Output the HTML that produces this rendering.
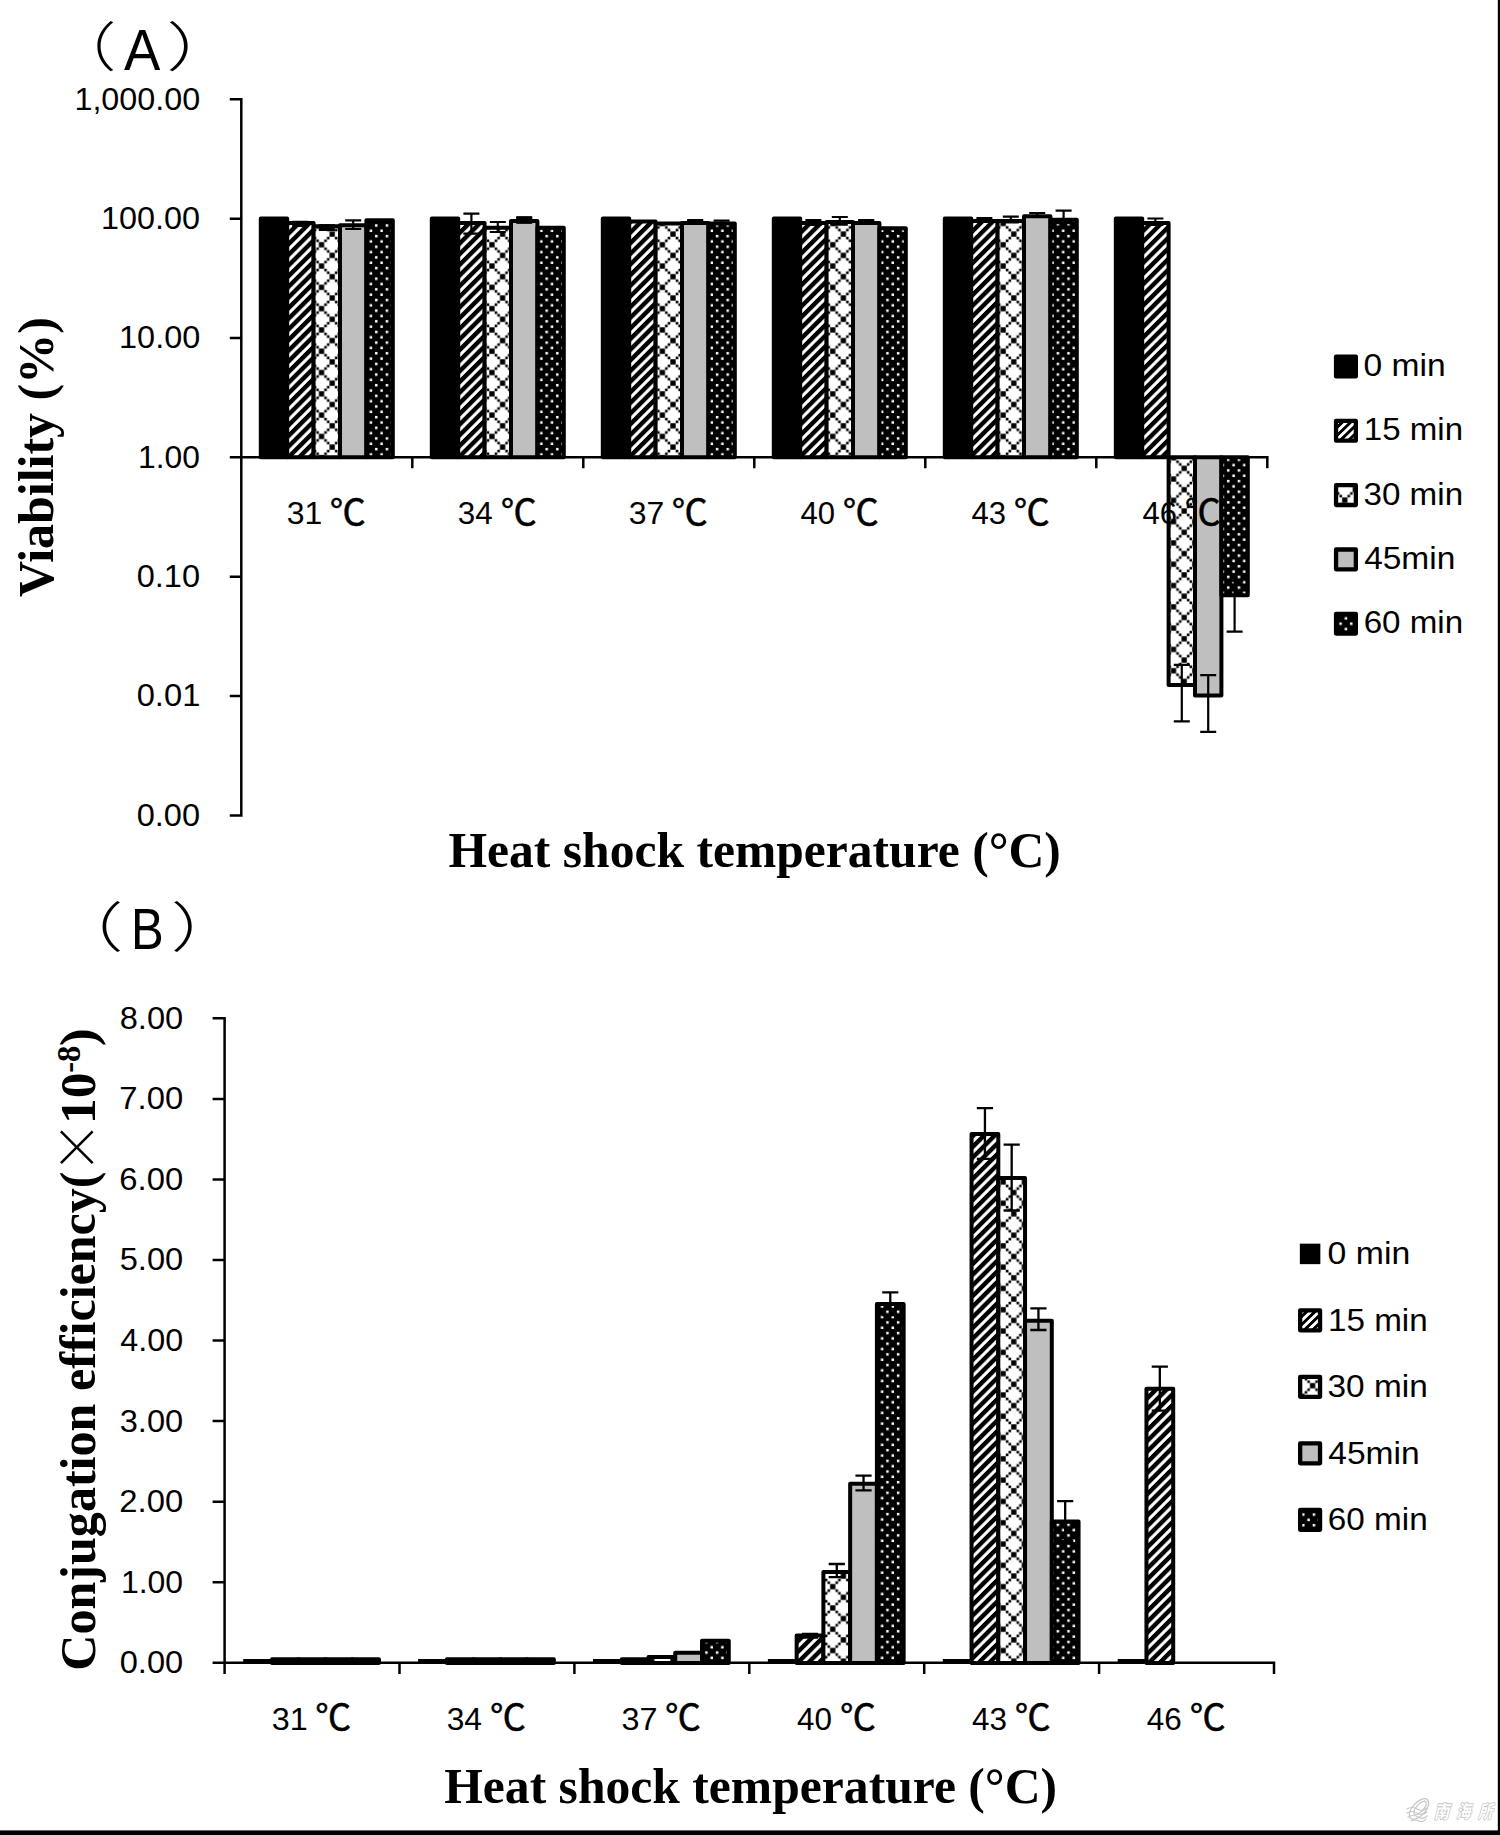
<!DOCTYPE html>
<html lang="en"><head><meta charset="utf-8"><title>Figure</title><style>html,body{margin:0;padding:0;background:#fff}svg{display:block}</style></head><body>
<svg width="1500" height="1835" viewBox="0 0 1500 1835">
<defs>
<pattern id="hatch" patternUnits="userSpaceOnUse" width="40" height="10.65" patternTransform="translate(0 3.04) skewY(-45)"><rect width="40" height="10.65" fill="#000"/><rect y="0.320" width="40" height="4.367" fill="#fff"/></pattern>
<pattern id="hatchS" patternUnits="userSpaceOnUse" width="40" height="8" patternTransform="skewY(-44)"><rect width="40" height="8" fill="#000"/><rect width="40" height="4" fill="#fff"/></pattern>
<pattern id="dots" patternUnits="userSpaceOnUse" width="10.65" height="10.65" patternTransform="translate(6.2 4.5)"><rect width="10.65" height="10.65" fill="#000"/><rect x="1.4" y="1.4" width="2.5" height="2.5" fill="#fff"/><rect x="6.725" y="6.725" width="2.5" height="2.5" fill="#fff"/></pattern>
<pattern id="chk" patternUnits="userSpaceOnUse" width="21.3" height="21.3" patternTransform="translate(12.7 -0.2)"><rect width="21.3" height="21.3" fill="#fff"/><rect x="8.000" y="8.000" width="5.300" height="5.300" fill="#000"/><rect x="-2.650" y="-2.650" width="5.300" height="5.300" fill="#000"/><rect x="18.650" y="-2.650" width="5.300" height="5.300" fill="#000"/><rect x="-2.650" y="18.650" width="5.300" height="5.300" fill="#000"/><rect x="18.650" y="18.650" width="5.300" height="5.300" fill="#000"/><rect x="5.356" y="5.356" width="2.600" height="2.600" fill="#000"/><rect x="13.344" y="5.356" width="2.600" height="2.600" fill="#000"/><rect x="5.356" y="13.344" width="2.600" height="2.600" fill="#000"/><rect x="13.344" y="13.344" width="2.600" height="2.600" fill="#000"/><rect x="2.694" y="2.694" width="2.600" height="2.600" fill="#000"/><rect x="16.006" y="2.694" width="2.600" height="2.600" fill="#000"/><rect x="2.694" y="16.006" width="2.600" height="2.600" fill="#000"/><rect x="16.006" y="16.006" width="2.600" height="2.600" fill="#000"/></pattern>
</defs>
<rect width="1500" height="1835" fill="#fff"/>
<g id="bars">
<rect x="260.80" y="218.60" width="26.40" height="238.75" fill="#000" stroke="#000" stroke-width="4.0" stroke-linejoin="round"/>
<rect x="287.20" y="223.00" width="26.40" height="234.35" fill="url(#hatch)" stroke="#000" stroke-width="4.0" stroke-linejoin="round"/>
<rect x="313.60" y="226.30" width="26.40" height="231.05" fill="url(#chk)" stroke="#000" stroke-width="4.0" stroke-linejoin="round"/>
<rect x="340.00" y="225.30" width="26.40" height="232.05" fill="#bfbfbf" stroke="#000" stroke-width="4.0" stroke-linejoin="round"/>
<rect x="366.40" y="220.20" width="26.40" height="237.15" fill="url(#dots)" stroke="#000" stroke-width="4.0" stroke-linejoin="round"/>
<rect x="431.80" y="218.60" width="26.40" height="238.75" fill="#000" stroke="#000" stroke-width="4.0" stroke-linejoin="round"/>
<rect x="458.20" y="223.00" width="26.40" height="234.35" fill="url(#hatch)" stroke="#000" stroke-width="4.0" stroke-linejoin="round"/>
<rect x="484.60" y="227.70" width="26.40" height="229.65" fill="url(#chk)" stroke="#000" stroke-width="4.0" stroke-linejoin="round"/>
<rect x="511.00" y="221.00" width="26.40" height="236.35" fill="#bfbfbf" stroke="#000" stroke-width="4.0" stroke-linejoin="round"/>
<rect x="537.40" y="227.70" width="26.40" height="229.65" fill="url(#dots)" stroke="#000" stroke-width="4.0" stroke-linejoin="round"/>
<rect x="602.80" y="218.60" width="26.40" height="238.75" fill="#000" stroke="#000" stroke-width="4.0" stroke-linejoin="round"/>
<rect x="629.20" y="221.50" width="26.40" height="235.85" fill="url(#hatch)" stroke="#000" stroke-width="4.0" stroke-linejoin="round"/>
<rect x="655.60" y="223.40" width="26.40" height="233.95" fill="url(#chk)" stroke="#000" stroke-width="4.0" stroke-linejoin="round"/>
<rect x="682.00" y="222.90" width="26.40" height="234.45" fill="#bfbfbf" stroke="#000" stroke-width="4.0" stroke-linejoin="round"/>
<rect x="708.40" y="223.40" width="26.40" height="233.95" fill="url(#dots)" stroke="#000" stroke-width="4.0" stroke-linejoin="round"/>
<rect x="773.80" y="218.60" width="26.40" height="238.75" fill="#000" stroke="#000" stroke-width="4.0" stroke-linejoin="round"/>
<rect x="800.20" y="223.00" width="26.40" height="234.35" fill="url(#hatch)" stroke="#000" stroke-width="4.0" stroke-linejoin="round"/>
<rect x="826.60" y="222.00" width="26.40" height="235.35" fill="url(#chk)" stroke="#000" stroke-width="4.0" stroke-linejoin="round"/>
<rect x="853.00" y="223.00" width="26.40" height="234.35" fill="#bfbfbf" stroke="#000" stroke-width="4.0" stroke-linejoin="round"/>
<rect x="879.40" y="228.20" width="26.40" height="229.15" fill="url(#dots)" stroke="#000" stroke-width="4.0" stroke-linejoin="round"/>
<rect x="944.80" y="218.60" width="26.40" height="238.75" fill="#000" stroke="#000" stroke-width="4.0" stroke-linejoin="round"/>
<rect x="971.20" y="221.00" width="26.40" height="236.35" fill="url(#hatch)" stroke="#000" stroke-width="4.0" stroke-linejoin="round"/>
<rect x="997.60" y="221.00" width="26.40" height="236.35" fill="url(#chk)" stroke="#000" stroke-width="4.0" stroke-linejoin="round"/>
<rect x="1024.00" y="216.20" width="26.40" height="241.15" fill="#bfbfbf" stroke="#000" stroke-width="4.0" stroke-linejoin="round"/>
<rect x="1050.40" y="219.80" width="26.40" height="237.55" fill="url(#dots)" stroke="#000" stroke-width="4.0" stroke-linejoin="round"/>
<rect x="1115.80" y="218.60" width="26.40" height="238.75" fill="#000" stroke="#000" stroke-width="4.0" stroke-linejoin="round"/>
<rect x="1142.20" y="223.00" width="26.40" height="234.35" fill="url(#hatch)" stroke="#000" stroke-width="4.0" stroke-linejoin="round"/>
<rect x="1168.60" y="457.35" width="26.40" height="227.55" fill="url(#chk)" stroke="#000" stroke-width="4.0" stroke-linejoin="round"/>
<rect x="1195.00" y="457.35" width="26.40" height="238.25" fill="#bfbfbf" stroke="#000" stroke-width="4.0" stroke-linejoin="round"/>
<rect x="1221.40" y="457.35" width="26.40" height="137.95" fill="url(#dots)" stroke="#000" stroke-width="4.0" stroke-linejoin="round"/>
<rect x="243.20" y="1659" width="28.75" height="4.4" fill="#000"/>
<rect x="271.95" y="1659.20" width="26.75" height="3.80" fill="url(#hatch)" stroke="#000" stroke-width="4.0" stroke-linejoin="round"/>
<rect x="298.70" y="1659.20" width="26.75" height="3.80" fill="url(#chk)" stroke="#000" stroke-width="4.0" stroke-linejoin="round"/>
<rect x="325.45" y="1659.20" width="26.75" height="3.80" fill="#bfbfbf" stroke="#000" stroke-width="4.0" stroke-linejoin="round"/>
<rect x="352.20" y="1659.20" width="26.75" height="3.80" fill="url(#dots)" stroke="#000" stroke-width="4.0" stroke-linejoin="round"/>
<rect x="418.10" y="1659" width="28.75" height="4.4" fill="#000"/>
<rect x="446.85" y="1659.20" width="26.75" height="3.80" fill="url(#hatch)" stroke="#000" stroke-width="4.0" stroke-linejoin="round"/>
<rect x="473.60" y="1659.20" width="26.75" height="3.80" fill="url(#chk)" stroke="#000" stroke-width="4.0" stroke-linejoin="round"/>
<rect x="500.35" y="1659.20" width="26.75" height="3.80" fill="#bfbfbf" stroke="#000" stroke-width="4.0" stroke-linejoin="round"/>
<rect x="527.10" y="1659.20" width="26.75" height="3.80" fill="url(#dots)" stroke="#000" stroke-width="4.0" stroke-linejoin="round"/>
<rect x="593.00" y="1659" width="28.75" height="4.4" fill="#000"/>
<rect x="621.75" y="1659.30" width="26.75" height="3.70" fill="url(#hatch)" stroke="#000" stroke-width="4.0" stroke-linejoin="round"/>
<rect x="648.50" y="1657.00" width="26.75" height="6.00" fill="url(#chk)" stroke="#000" stroke-width="4.0" stroke-linejoin="round"/>
<rect x="675.25" y="1652.70" width="26.75" height="10.30" fill="#bfbfbf" stroke="#000" stroke-width="4.0" stroke-linejoin="round"/>
<rect x="702.00" y="1640.70" width="26.75" height="22.30" fill="url(#dots)" stroke="#000" stroke-width="4.0" stroke-linejoin="round"/>
<rect x="767.90" y="1659" width="28.75" height="4.4" fill="#000"/>
<rect x="796.65" y="1635.60" width="26.75" height="27.40" fill="url(#hatch)" stroke="#000" stroke-width="4.0" stroke-linejoin="round"/>
<rect x="823.40" y="1572.00" width="26.75" height="91.00" fill="url(#chk)" stroke="#000" stroke-width="4.0" stroke-linejoin="round"/>
<rect x="850.15" y="1483.70" width="26.75" height="179.30" fill="#bfbfbf" stroke="#000" stroke-width="4.0" stroke-linejoin="round"/>
<rect x="876.90" y="1303.90" width="26.75" height="359.10" fill="url(#dots)" stroke="#000" stroke-width="4.0" stroke-linejoin="round"/>
<rect x="942.80" y="1659" width="28.75" height="4.4" fill="#000"/>
<rect x="971.55" y="1133.90" width="26.75" height="529.10" fill="url(#hatch)" stroke="#000" stroke-width="4.0" stroke-linejoin="round"/>
<rect x="998.30" y="1177.90" width="26.75" height="485.10" fill="url(#chk)" stroke="#000" stroke-width="4.0" stroke-linejoin="round"/>
<rect x="1025.05" y="1320.70" width="26.75" height="342.30" fill="#bfbfbf" stroke="#000" stroke-width="4.0" stroke-linejoin="round"/>
<rect x="1051.80" y="1521.60" width="26.75" height="141.40" fill="url(#dots)" stroke="#000" stroke-width="4.0" stroke-linejoin="round"/>
<rect x="1117.70" y="1659" width="28.75" height="4.4" fill="#000"/>
<rect x="1146.45" y="1388.70" width="26.75" height="274.30" fill="url(#hatch)" stroke="#000" stroke-width="4.0" stroke-linejoin="round"/>
</g><g id="axes">
<path d="M241.3 97.90V816.80M229.8 99.30H241.3M229.8 218.65H241.3M229.8 338.00H241.3M229.8 457.35H241.3M229.8 576.70H241.3M229.8 696.05H241.3M229.8 815.40H241.3M229.8 457.35H1268.60M412.30 457.35V468.35M583.30 457.35V468.35M754.30 457.35V468.35M925.30 457.35V468.35M1096.30 457.35V468.35M1267.30 457.35V468.35" fill="none" stroke="#000" stroke-width="2.5"/>
<path d="M224.6 1016.92V1674.10M212.6 1662.80H224.6M212.6 1582.24H224.6M212.6 1501.68H224.6M212.6 1421.12H224.6M212.6 1340.56H224.6M212.6 1260.00H224.6M212.6 1179.44H224.6M212.6 1098.88H224.6M212.6 1018.32H224.6M212.6 1662.8H1275.30M399.50 1662.8V1674.1M574.40 1662.8V1674.1M749.30 1662.8V1674.1M924.20 1662.8V1674.1M1099.10 1662.8V1674.1M1274.00 1662.8V1674.1" fill="none" stroke="#000" stroke-width="2.5"/>
</g><g id="err">
<path d="M300.40 221.80V226.00M292.40 221.80H308.40M292.40 226.00H308.40" fill="none" stroke="#000" stroke-width="2.2"/>
<path d="M326.80 225.40V229.80M318.80 225.40H334.80M318.80 229.80H334.80" fill="none" stroke="#000" stroke-width="2.2"/>
<path d="M353.20 220.30V229.00M345.20 220.30H361.20M345.20 229.00H361.20" fill="none" stroke="#000" stroke-width="2.2"/>
<path d="M471.40 213.70V233.60M463.40 213.70H479.40M463.40 233.60H479.40" fill="none" stroke="#000" stroke-width="2.2"/>
<path d="M497.80 222.00V232.00M489.80 222.00H505.80M489.80 232.00H505.80" fill="none" stroke="#000" stroke-width="2.2"/>
<path d="M524.20 217.30V222.40M516.20 217.30H532.20M516.20 222.40H532.20" fill="none" stroke="#000" stroke-width="2.2"/>
<path d="M695.20 220.00V223.40M687.20 220.00H703.20M687.20 223.40H703.20" fill="none" stroke="#000" stroke-width="2.2"/>
<path d="M721.60 220.70V224.00M713.60 220.70H729.60M713.60 224.00H729.60" fill="none" stroke="#000" stroke-width="2.2"/>
<path d="M813.40 220.00V224.80M805.40 220.00H821.40M805.40 224.80H821.40" fill="none" stroke="#000" stroke-width="2.2"/>
<path d="M839.80 217.00V224.60M831.80 217.00H847.80M831.80 224.60H847.80" fill="none" stroke="#000" stroke-width="2.2"/>
<path d="M866.20 220.00V224.00M858.20 220.00H874.20M858.20 224.00H874.20" fill="none" stroke="#000" stroke-width="2.2"/>
<path d="M984.40 218.20V221.60M976.40 218.20H992.40M976.40 221.60H992.40" fill="none" stroke="#000" stroke-width="2.2"/>
<path d="M1010.80 216.60V222.40M1002.80 216.60H1018.80M1002.80 222.40H1018.80" fill="none" stroke="#000" stroke-width="2.2"/>
<path d="M1037.20 213.00V216.80M1029.20 213.00H1045.20M1029.20 216.80H1045.20" fill="none" stroke="#000" stroke-width="2.2"/>
<path d="M1063.60 210.60V226.60M1055.60 210.60H1071.60M1055.60 226.60H1071.60" fill="none" stroke="#000" stroke-width="2.2"/>
<path d="M1155.40 218.50V225.00M1147.40 218.50H1163.40M1147.40 225.00H1163.40" fill="none" stroke="#000" stroke-width="2.2"/>
<path d="M1181.80 664.90V721.30M1173.80 664.90H1189.80M1173.80 721.30H1189.80" fill="none" stroke="#000" stroke-width="2.2"/>
<path d="M1208.20 675.20V731.90M1200.20 675.20H1216.20M1200.20 731.90H1216.20" fill="none" stroke="#000" stroke-width="2.2"/>
<path d="M1234.60 580.60V631.70M1226.60 580.60H1242.60M1226.60 631.70H1242.60" fill="none" stroke="#000" stroke-width="2.2"/>
<rect x="516.20" y="216.6" width="16" height="7.20" rx="1" fill="#000"/>
<rect x="318.80" y="224.6" width="16" height="6.00" rx="1" fill="#000"/>
<rect x="292.40" y="221.2" width="16" height="5.20" rx="1" fill="#000"/>
<rect x="858.20" y="219.4" width="16" height="5.00" rx="1" fill="#000"/>
<rect x="687.20" y="219.6" width="16" height="4.20" rx="1" fill="#000"/>
<path d="M810.03 1634.00V1637.50M801.93 1634.00H818.13M801.93 1637.50H818.13" fill="none" stroke="#000" stroke-width="2.3"/>
<path d="M836.78 1564.00V1577.20M828.68 1564.00H844.88M828.68 1577.20H844.88" fill="none" stroke="#000" stroke-width="2.3"/>
<path d="M863.53 1475.70V1490.30M855.43 1475.70H871.63M855.43 1490.30H871.63" fill="none" stroke="#000" stroke-width="2.3"/>
<path d="M890.28 1292.30V1315.20M882.18 1292.30H898.38M882.18 1315.20H898.38" fill="none" stroke="#000" stroke-width="2.3"/>
<path d="M984.93 1108.10V1158.80M976.83 1108.10H993.03M976.83 1158.80H993.03" fill="none" stroke="#000" stroke-width="2.3"/>
<path d="M1011.68 1144.70V1210.50M1003.58 1144.70H1019.78M1003.58 1210.50H1019.78" fill="none" stroke="#000" stroke-width="2.3"/>
<path d="M1038.43 1308.40V1330.00M1030.33 1308.40H1046.53M1030.33 1330.00H1046.53" fill="none" stroke="#000" stroke-width="2.3"/>
<path d="M1065.18 1501.10V1541.00M1057.08 1501.10H1073.28M1057.08 1541.00H1073.28" fill="none" stroke="#000" stroke-width="2.3"/>
<path d="M1159.82 1366.60V1410.60M1151.72 1366.60H1167.92M1151.72 1410.60H1167.92" fill="none" stroke="#000" stroke-width="2.3"/>
</g><g id="legend">
<g transform="translate(1345.95 366.50)"><rect x="-9.90" y="-9.90" width="19.80" height="19.80" fill="#000" stroke="#000" stroke-width="4.3" stroke-linejoin="round"/></g>
<g transform="translate(1345.95 428.80)"><rect x="-9.90" y="-7.90" width="19.80" height="19.80" fill="url(#hatchS)" stroke="#000" stroke-width="4.3" stroke-linejoin="round"/></g>
<g transform="translate(1332.05 500.30)"><rect x="4.00" y="-15.10" width="19.80" height="19.80" fill="url(#chk)" stroke="#000" stroke-width="4.3" stroke-linejoin="round"/></g>
<g transform="translate(1345.95 559.40)"><rect x="-9.90" y="-9.90" width="19.80" height="19.80" fill="#bfbfbf" stroke="#000" stroke-width="4.3" stroke-linejoin="round"/></g>
<g transform="translate(1337.10 611.23)"><rect x="-1.05" y="2.58" width="19.80" height="19.80" fill="url(#dots)" stroke="#000" stroke-width="4.3" stroke-linejoin="round"/></g>
<rect x="1299.85" y="1243.65" width="20.5" height="20.5" fill="#000"/>
<g transform="translate(1310.10 1318.40)"><rect x="-9.95" y="-7.95" width="19.90" height="19.90" fill="url(#hatchS)" stroke="#000" stroke-width="4.3" stroke-linejoin="round"/></g>
<g transform="translate(1299.90 1385.90)"><rect x="0.25" y="-8.95" width="19.90" height="19.90" fill="url(#chk)" stroke="#000" stroke-width="4.3" stroke-linejoin="round"/></g>
<g transform="translate(1310.10 1453.40)"><rect x="-9.95" y="-9.95" width="19.90" height="19.90" fill="#bfbfbf" stroke="#000" stroke-width="4.3" stroke-linejoin="round"/></g>
<g transform="translate(1299.75 1512.75)"><rect x="0.40" y="-2.80" width="19.90" height="19.90" fill="url(#dots)" stroke="#000" stroke-width="4.3" stroke-linejoin="round"/></g>
</g><g id="text">
<text transform="translate(286.72 524.40) scale(0.9953 1)" font-size="32.11" font-family='"Liberation Sans","Noto Sans CJK SC",sans-serif' font-weight="400">31</text>
<text transform="translate(329.80 525.04) scale(1.0101 1)" font-size="35.64" font-family='"Liberation Sans","Noto Sans CJK SC",sans-serif' font-weight="400" stroke="#000" stroke-width="0.5">℃</text>
<text transform="translate(457.75 524.40) scale(0.9761 1)" font-size="32.11" font-family='"Liberation Sans","Noto Sans CJK SC",sans-serif' font-weight="400">34</text>
<text transform="translate(500.80 525.04) scale(1.0101 1)" font-size="35.64" font-family='"Liberation Sans","Noto Sans CJK SC",sans-serif' font-weight="400" stroke="#000" stroke-width="0.5">℃</text>
<text transform="translate(628.72 524.40) scale(0.9953 1)" font-size="32.11" font-family='"Liberation Sans","Noto Sans CJK SC",sans-serif' font-weight="400">37</text>
<text transform="translate(671.80 525.04) scale(1.0101 1)" font-size="35.64" font-family='"Liberation Sans","Noto Sans CJK SC",sans-serif' font-weight="400" stroke="#000" stroke-width="0.5">℃</text>
<text transform="translate(800.38 524.40) scale(0.9668 1)" font-size="32.11" font-family='"Liberation Sans","Noto Sans CJK SC",sans-serif' font-weight="400">40</text>
<text transform="translate(842.80 525.04) scale(1.0101 1)" font-size="35.64" font-family='"Liberation Sans","Noto Sans CJK SC",sans-serif' font-weight="400" stroke="#000" stroke-width="0.5">℃</text>
<text transform="translate(971.38 524.40) scale(0.9668 1)" font-size="32.11" font-family='"Liberation Sans","Noto Sans CJK SC",sans-serif' font-weight="400">43</text>
<text transform="translate(1013.80 525.04) scale(1.0101 1)" font-size="35.64" font-family='"Liberation Sans","Noto Sans CJK SC",sans-serif' font-weight="400" stroke="#000" stroke-width="0.5">℃</text>
<text transform="translate(1142.38 524.40) scale(0.9668 1)" font-size="32.11" font-family='"Liberation Sans","Noto Sans CJK SC",sans-serif' font-weight="400">46</text>
<text transform="translate(1184.80 525.04) scale(1.0101 1)" font-size="35.64" font-family='"Liberation Sans","Noto Sans CJK SC",sans-serif' font-weight="400" stroke="#000" stroke-width="0.5">℃</text>
<text transform="translate(49.67 67.21) scale(1.2533 1)" font-size="53.19" font-family='"Liberation Sans","Noto Sans CJK SC",sans-serif' font-weight="300">（</text>
<text transform="translate(124.00 70.00) scale(0.9409 1)" font-size="57.97" font-family='"Liberation Sans","Noto Sans CJK SC",sans-serif' font-weight="400">A</text>
<text transform="translate(166.25 67.21) scale(1.4100 1)" font-size="53.19" font-family='"Liberation Sans","Noto Sans CJK SC",sans-serif' font-weight="300">）</text>
<text transform="translate(50.33 946.76) scale(1.3623 1)" font-size="53.83" font-family='"Liberation Sans","Noto Sans CJK SC",sans-serif' font-weight="300">（</text>
<text transform="translate(131.08 949.00) scale(0.8679 1)" font-size="56.52" font-family='"Liberation Sans","Noto Sans CJK SC",sans-serif' font-weight="400">B</text>
<text transform="translate(170.73 946.76) scale(1.3623 1)" font-size="53.83" font-family='"Liberation Sans","Noto Sans CJK SC",sans-serif' font-weight="300">）</text>
<text transform="translate(74.42 109.70) scale(1.0105 1)" font-size="31.97" font-family='"Liberation Sans","Noto Sans CJK SC",sans-serif' font-weight="400">1,000.00</text>
<text transform="translate(101.01 229.05) scale(1.0128 1)" font-size="31.97" font-family='"Liberation Sans","Noto Sans CJK SC",sans-serif' font-weight="400">100.00</text>
<text transform="translate(119.11 348.40) scale(1.0132 1)" font-size="31.97" font-family='"Liberation Sans","Noto Sans CJK SC",sans-serif' font-weight="400">10.00</text>
<text transform="translate(138.06 467.75) scale(0.9947 1)" font-size="31.97" font-family='"Liberation Sans","Noto Sans CJK SC",sans-serif' font-weight="400">1.00</text>
<text transform="translate(136.70 587.10) scale(1.0169 1)" font-size="31.97" font-family='"Liberation Sans","Noto Sans CJK SC",sans-serif' font-weight="400">0.10</text>
<text transform="translate(136.69 706.45) scale(1.0224 1)" font-size="31.97" font-family='"Liberation Sans","Noto Sans CJK SC",sans-serif' font-weight="400">0.01</text>
<text transform="translate(136.70 825.80) scale(1.0169 1)" font-size="31.97" font-family='"Liberation Sans","Noto Sans CJK SC",sans-serif' font-weight="400">0.00</text>
<text transform="translate(119.70 1028.72) scale(1.0203 1)" font-size="31.97" font-family='"Liberation Sans","Noto Sans CJK SC",sans-serif' font-weight="400">8.00</text>
<text transform="translate(119.36 1109.28) scale(1.0258 1)" font-size="31.97" font-family='"Liberation Sans","Noto Sans CJK SC",sans-serif' font-weight="400">7.00</text>
<text transform="translate(119.36 1189.84) scale(1.0258 1)" font-size="31.97" font-family='"Liberation Sans","Noto Sans CJK SC",sans-serif' font-weight="400">6.00</text>
<text transform="translate(119.70 1270.40) scale(1.0203 1)" font-size="31.97" font-family='"Liberation Sans","Noto Sans CJK SC",sans-serif' font-weight="400">5.00</text>
<text transform="translate(120.35 1350.96) scale(1.0095 1)" font-size="31.97" font-family='"Liberation Sans","Noto Sans CJK SC",sans-serif' font-weight="400">4.00</text>
<text transform="translate(119.70 1431.52) scale(1.0203 1)" font-size="31.97" font-family='"Liberation Sans","Noto Sans CJK SC",sans-serif' font-weight="400">3.00</text>
<text transform="translate(119.36 1512.08) scale(1.0258 1)" font-size="31.97" font-family='"Liberation Sans","Noto Sans CJK SC",sans-serif' font-weight="400">2.00</text>
<text transform="translate(120.94 1592.64) scale(0.9999 1)" font-size="31.97" font-family='"Liberation Sans","Noto Sans CJK SC",sans-serif' font-weight="400">1.00</text>
<text transform="translate(119.70 1673.20) scale(1.0203 1)" font-size="31.97" font-family='"Liberation Sans","Noto Sans CJK SC",sans-serif' font-weight="400">0.00</text>
<text transform="translate(271.71 1730.00) scale(1.0075 1)" font-size="32.11" font-family='"Liberation Sans","Noto Sans CJK SC",sans-serif' font-weight="400">31</text>
<text transform="translate(315.21 1730.34) scale(1.0106 1)" font-size="35.51" font-family='"Liberation Sans","Noto Sans CJK SC",sans-serif' font-weight="400" stroke="#000" stroke-width="0.5">℃</text>
<text transform="translate(446.63 1730.00) scale(0.9881 1)" font-size="32.11" font-family='"Liberation Sans","Noto Sans CJK SC",sans-serif' font-weight="400">34</text>
<text transform="translate(490.11 1730.34) scale(1.0106 1)" font-size="35.51" font-family='"Liberation Sans","Noto Sans CJK SC",sans-serif' font-weight="400" stroke="#000" stroke-width="0.5">℃</text>
<text transform="translate(621.51 1730.00) scale(1.0075 1)" font-size="32.11" font-family='"Liberation Sans","Noto Sans CJK SC",sans-serif' font-weight="400">37</text>
<text transform="translate(665.01 1730.34) scale(1.0106 1)" font-size="35.51" font-family='"Liberation Sans","Noto Sans CJK SC",sans-serif' font-weight="400" stroke="#000" stroke-width="0.5">℃</text>
<text transform="translate(797.07 1730.00) scale(0.9787 1)" font-size="32.11" font-family='"Liberation Sans","Noto Sans CJK SC",sans-serif' font-weight="400">40</text>
<text transform="translate(839.91 1730.34) scale(1.0106 1)" font-size="35.51" font-family='"Liberation Sans","Noto Sans CJK SC",sans-serif' font-weight="400" stroke="#000" stroke-width="0.5">℃</text>
<text transform="translate(971.97 1730.00) scale(0.9787 1)" font-size="32.11" font-family='"Liberation Sans","Noto Sans CJK SC",sans-serif' font-weight="400">43</text>
<text transform="translate(1014.81 1730.34) scale(1.0106 1)" font-size="35.51" font-family='"Liberation Sans","Noto Sans CJK SC",sans-serif' font-weight="400" stroke="#000" stroke-width="0.5">℃</text>
<text transform="translate(1146.87 1730.00) scale(0.9787 1)" font-size="32.11" font-family='"Liberation Sans","Noto Sans CJK SC",sans-serif' font-weight="400">46</text>
<text transform="translate(1189.71 1730.34) scale(1.0106 1)" font-size="35.51" font-family='"Liberation Sans","Noto Sans CJK SC",sans-serif' font-weight="400" stroke="#000" stroke-width="0.5">℃</text>
<text transform="translate(1363.46 375.90) scale(1.0553 1)" font-size="31.83" font-family='"Liberation Sans","Noto Sans CJK SC",sans-serif' font-weight="400">0 min</text>
<text transform="translate(1327.55 1264.20) scale(1.0620 1)" font-size="31.83" font-family='"Liberation Sans","Noto Sans CJK SC",sans-serif' font-weight="400">0 min</text>
<text transform="translate(1363.85 440.25) scale(1.0391 1)" font-size="31.83" font-family='"Liberation Sans","Noto Sans CJK SC",sans-serif' font-weight="400">15 min</text>
<text transform="translate(1328.04 1330.70) scale(1.0435 1)" font-size="31.83" font-family='"Liberation Sans","Noto Sans CJK SC",sans-serif' font-weight="400">15 min</text>
<text transform="translate(1363.47 504.60) scale(1.0432 1)" font-size="31.83" font-family='"Liberation Sans","Noto Sans CJK SC",sans-serif' font-weight="400">30 min</text>
<text transform="translate(1327.56 1397.20) scale(1.0486 1)" font-size="31.83" font-family='"Liberation Sans","Noto Sans CJK SC",sans-serif' font-weight="400">30 min</text>
<text transform="translate(1364.13 568.95) scale(1.0520 1)" font-size="31.83" font-family='"Liberation Sans","Noto Sans CJK SC",sans-serif' font-weight="400">45min</text>
<text transform="translate(1328.23 1463.70) scale(1.0555 1)" font-size="31.83" font-family='"Liberation Sans","Noto Sans CJK SC",sans-serif' font-weight="400">45min</text>
<text transform="translate(1363.64 633.30) scale(1.0414 1)" font-size="31.83" font-family='"Liberation Sans","Noto Sans CJK SC",sans-serif' font-weight="400">60 min</text>
<text transform="translate(1327.84 1530.20) scale(1.0457 1)" font-size="31.83" font-family='"Liberation Sans","Noto Sans CJK SC",sans-serif' font-weight="400">60 min</text>
<text transform="translate(448.51 867.20) scale(0.9919 1)" font-size="50.00" font-family='"Liberation Serif","Noto Serif CJK SC",serif' font-weight="700">Heat shock temperature (°C)</text>
<text transform="translate(444.21 1803.30) scale(0.9967 1)" font-size="49.80" font-family='"Liberation Serif","Noto Serif CJK SC",serif' font-weight="700">Heat shock temperature (°C)</text>
<text transform="translate(53.20 597.00) rotate(-90) scale(0.9894 1)" font-size="50.50" font-family='"Liberation Serif","Noto Serif CJK SC",serif' font-weight="700">Viability (%)</text>
<text transform="translate(95.40 1670.70) rotate(-90) scale(0.9917 1)" font-size="50.50" font-family='"Liberation Serif","Noto Serif CJK SC",serif' font-weight="700">Conjugation efficiency(</text>
<text transform="translate(96.87 1173.83) rotate(-90) scale(1.0021 1)" font-size="52.86" font-family='"Noto Sans CJK SC",sans-serif' font-weight="300">×</text>
<text transform="translate(95.10 1123.92) rotate(-90) scale(1.0094 1)" font-size="51.00" font-family='"Liberation Serif","Noto Serif CJK SC",serif' font-weight="700">10</text>
<text transform="translate(79.80 1072.81) rotate(-90) scale(0.9741 1)" font-size="33.50" font-family='"Liberation Serif","Noto Serif CJK SC",serif' font-weight="700">-8</text>
<text transform="translate(95.10 1046.23) rotate(-90) scale(1.0633 1)" font-size="51.00" font-family='"Liberation Serif","Noto Serif CJK SC",serif' font-weight="700">)</text>
<text transform="translate(1433.90 1817.87) skewX(-14) scale(0.8294 1)" font-size="18.09" font-family='"Liberation Sans","Noto Sans CJK SC",sans-serif' font-weight="700" fill="#fff" stroke="#c2c2c2" stroke-width="1.6" paint-order="stroke" stroke-linejoin="round">南</text>
<text transform="translate(1456.23 1818.04) skewX(-14) scale(0.7765 1)" font-size="18.28" font-family='"Liberation Sans","Noto Sans CJK SC",sans-serif' font-weight="700" fill="#fff" stroke="#c2c2c2" stroke-width="1.6" paint-order="stroke" stroke-linejoin="round">海</text>
<text transform="translate(1478.32 1817.69) skewX(-14) scale(0.7683 1)" font-size="18.09" font-family='"Liberation Sans","Noto Sans CJK SC",sans-serif' font-weight="700" fill="#fff" stroke="#c2c2c2" stroke-width="1.6" paint-order="stroke" stroke-linejoin="round">所</text>
</g>
<g id="wmlogo" fill="none" stroke="#c6c6c6" stroke-width="1.2" stroke-linecap="round"><ellipse cx="1419" cy="1809" rx="12.5" ry="6.5" transform="rotate(-48 1419 1809)"/><ellipse cx="1420" cy="1808" rx="8.5" ry="3.6" transform="rotate(-48 1420 1808)"/><path d="M1407 1809q5 -3 10 0t10 -1M1407 1813q5 -3 10 0t10 -1M1408 1817q5 -3 10 0t9 -1M1411 1821q4 -2 8 0t7 -2"/></g>
<rect x="1497.8" y="0" width="2.2" height="1835" fill="#000"/><rect x="0" y="1830.4" width="1500" height="4.6" fill="#000"/>
</svg>
</body></html>
